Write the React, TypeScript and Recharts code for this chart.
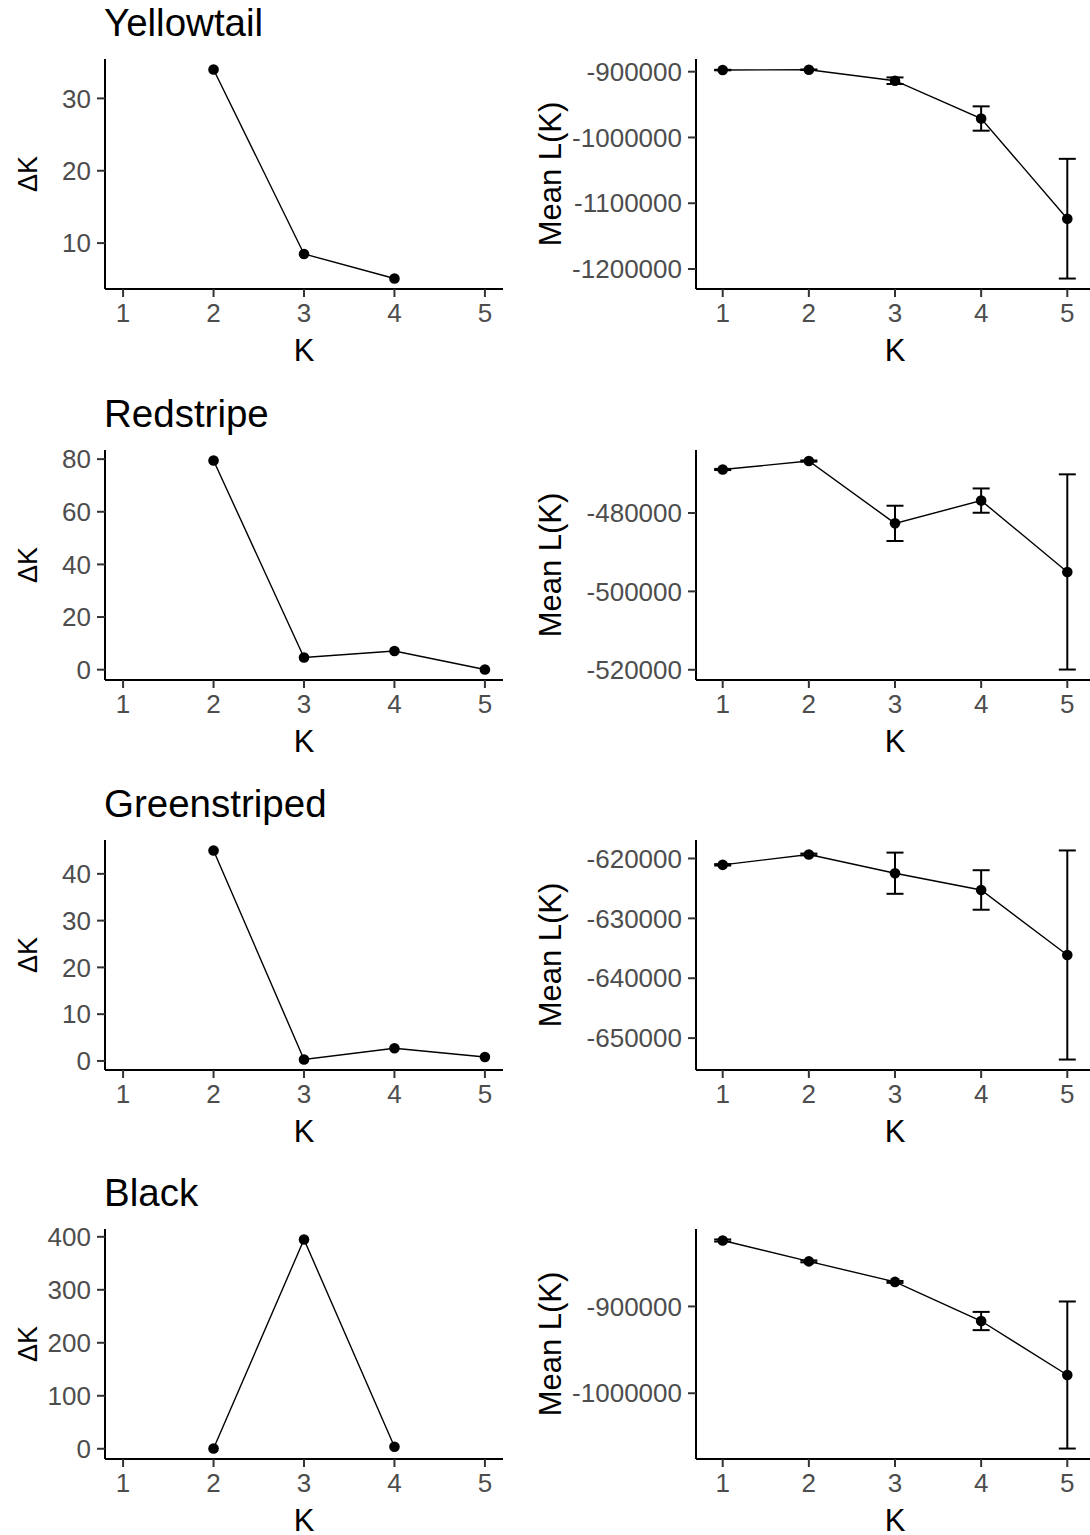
import React from 'react';
import { LineChart, Line, XAxis, YAxis, ErrorBar } from 'recharts';

const FONT = '"Liberation Sans", Arial, Helvetica, sans-serif';

// K values shared by every panel
const ks = [1, 2, 3, 4, 5];
const kTicks = [1, 2, 3, 4, 5];

const species = ['Yellowtail', 'Redstripe', 'Greenstriped', 'Black'];

// Delta K (Evanno) per K, null where not defined
const yellowtailDeltaK = [null, 34.0, 8.5, 5.1, null];
const redstripeDeltaK = [null, 79.5, 4.6, 7.1, 0.05];
const greenstripedDeltaK = [null, 45.0, 0.3, 2.7, 0.85];
const blackDeltaK = [null, 0.4, 395, 3.8, null];

// mean L(K) and its sd per K
const yellowtailMeanL = [-897500, -897000, -913700, -971200, -1123500];
const yellowtailSd = [400, 400, 5000, 18500, 91000];
const redstripeMeanL = [-468900, -466750, -482650, -476840, -495040];
const redstripeSd = [150, 150, 4500, 3100, 24900];
const greenstripedMeanL = [-621060, -619330, -622460, -625260, -636120];
const greenstripedSd = [120, 150, 3440, 3300, 17460];
const blackMeanL = [-824050, -848100, -871760, -916800, -979000];
const blackSd = [1200, 1100, 1100, 10500, 84700];

// y tick labels
const deltaKTicks = [
  [10, 20, 30],
  [0, 20, 40, 60, 80],
  [0, 10, 20, 30, 40],
  [0, 100, 200, 300, 400],
];
const meanLTicks = [
  [-1200000, -1100000, -1000000, -900000],
  [-520000, -500000, -480000],
  [-650000, -640000, -630000, -620000],
  [-1000000, -900000],
];

const deltaKs = [yellowtailDeltaK, redstripeDeltaK, greenstripedDeltaK, blackDeltaK];
const meanLs = [yellowtailMeanL, redstripeMeanL, greenstripedMeanL, blackMeanL];
const sds = [yellowtailSd, redstripeSd, greenstripedSd, blackSd];

const rowTops = [59, 450, 840, 1229];
const PLOT_H = 230;
const PLOT_W = 398;

const tickStyle = { fill: '#4D4D4D', fontSize: 26, fontFamily: FONT };
const dotStyle = { r: 5.3, fill: '#000', stroke: '#000', strokeWidth: 0 };

// ggplot-like 5% expansion
const expand = (lo: number, hi: number): [number, number] => {
  const pad = (hi - lo) * 0.05;
  return [lo - pad, hi + pad];
};

const DeltaKPanel = ({ values, ticks, top }: { values: (number | null)[]; ticks: number[]; top: number }) => {
  const data = ks
    .map((k, i) => ({ k, v: values[i] }))
    .filter((d) => d.v !== null) as { k: number; v: number }[];
  const vs = data.map((d) => d.v);
  const yDomain = expand(Math.min(...vs), Math.max(...vs));
  const xDomain = expand(1, 5);
  return (
    <div style={{ position: 'absolute', left: 0, top: top - 10 }}>
      <LineChart width={105 + PLOT_W + 7} height={10 + PLOT_H + 75} data={data}
        margin={{ top: 10, right: 7, bottom: 0, left: 0 }}>
        <XAxis dataKey="k" type="number" domain={xDomain} ticks={kTicks} allowDataOverflow interval={0}
          height={75} tickSize={8} tickMargin={7} tick={tickStyle}
          axisLine={{ stroke: '#000', strokeWidth: 2 }} tickLine={{ stroke: '#333', strokeWidth: 2 }} />
        <YAxis type="number" domain={yDomain} ticks={ticks} allowDataOverflow interval={0}
          width={105} tickSize={8} tickMargin={6} tick={tickStyle}
          axisLine={{ stroke: '#000', strokeWidth: 2 }} tickLine={{ stroke: '#333', strokeWidth: 2 }} />
        <Line type="linear" dataKey="v" stroke="#000" strokeWidth={1.4}
          dot={dotStyle} activeDot={false} isAnimationActive={false} />
      </LineChart>
    </div>
  );
};

const MeanLPanel = ({ means, errs, ticks, top }: { means: number[]; errs: number[]; ticks: number[]; top: number }) => {
  const data = ks.map((k, i) => ({ k, v: means[i], sd: errs[i] }));
  const lo = Math.min(...data.map((d) => d.v - d.sd));
  const hi = Math.max(...data.map((d) => d.v + d.sd));
  const yDomain = expand(lo, hi);
  // errorbar width 0.2 widens the x range before expansion
  const xDomain = expand(0.9, 5.1);
  return (
    <div style={{ position: 'absolute', left: 520, top: top - 10 }}>
      <LineChart width={176 + PLOT_W} height={10 + PLOT_H + 75} data={data}
        margin={{ top: 10, right: 0, bottom: 0, left: 0 }}>
        <XAxis dataKey="k" type="number" domain={xDomain} ticks={kTicks} allowDataOverflow interval={0}
          height={75} tickSize={8} tickMargin={7} tick={tickStyle}
          axisLine={{ stroke: '#000', strokeWidth: 2 }} tickLine={{ stroke: '#333', strokeWidth: 2 }} />
        <YAxis type="number" domain={yDomain} ticks={ticks} allowDataOverflow interval={0}
          width={176} tickSize={8} tickMargin={6} tick={tickStyle}
          axisLine={{ stroke: '#000', strokeWidth: 2 }} tickLine={{ stroke: '#333', strokeWidth: 2 }} />
        <Line type="linear" dataKey="v" stroke="#000" strokeWidth={1.4}
          dot={dotStyle} activeDot={false} isAnimationActive={false}>
          <ErrorBar dataKey="sd" direction="y" width={8.5} stroke="#000" strokeWidth={2} />
        </Line>
      </LineChart>
    </div>
  );
};

export default function App() {
  return (
    <div style={{ position: 'absolute', left: 0, top: 0, width: 1090, height: 1535, overflow: 'hidden', background: '#fff', fontFamily: FONT }}>
      {species.map((name, i) => (
        <React.Fragment key={name}>
          <DeltaKPanel values={deltaKs[i]} ticks={deltaKTicks[i]} top={rowTops[i]} />
          <MeanLPanel means={meanLs[i]} errs={sds[i]} ticks={meanLTicks[i]} top={rowTops[i]} />
        </React.Fragment>
      ))}
      {/* titles and axis titles */}
      <svg width={1090} height={1535} style={{ position: 'absolute', left: 0, top: 0, pointerEvents: 'none' }}>
        {species.map((name, i) => {
          const t = rowTops[i];
          return (
            <g key={name} fontFamily={FONT} fill="#000">
              <text x={104} y={t - 23.5} fontSize={38.5}>{name}</text>
              <text transform={`translate(37, ${t + 115}) rotate(-90)`} textAnchor="middle" fontSize={27}>ΔK</text>
              <text transform={`translate(561, ${t + 115}) rotate(-90)`} textAnchor="middle" fontSize={31}>Mean L(K)</text>
              <text x={304} y={t + 302} textAnchor="middle" fontSize={31}>K</text>
              <text x={895} y={t + 302} textAnchor="middle" fontSize={31}>K</text>
            </g>
          );
        })}
      </svg>
    </div>
  );
}
